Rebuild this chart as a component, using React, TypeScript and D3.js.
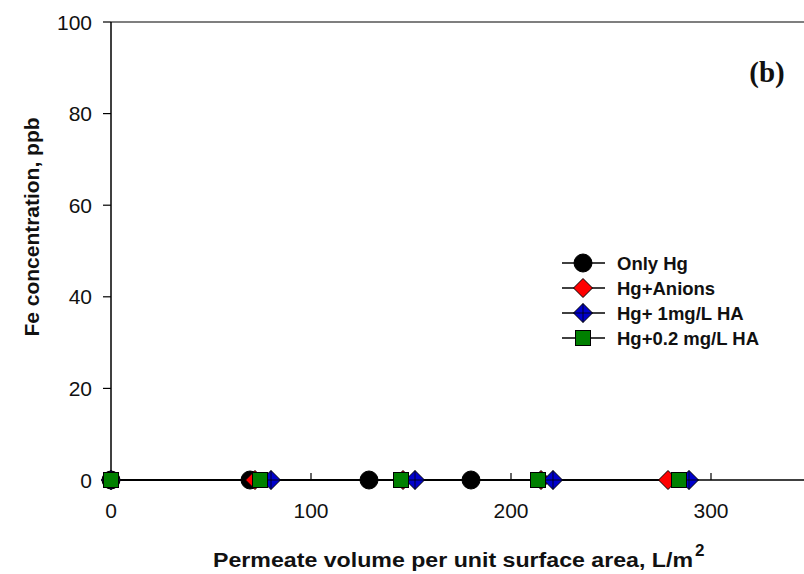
import React from "react";
import * as d3 from "d3";

const xTicks = [0, 100, 200, 300];
const yTicks = [0, 20, 40, 60, 80, 100];

const onlyHgX = [0, 69.5, 129, 180];
const onlyHgY = [0, 0, 0, 0];
const anionsX = [0, 72, 146, 215, 278.5];
const anionsY = [0, 0, 0, 0, 0];
const ha1X = [0, 80, 152, 221, 289];
const ha1Y = [0, 0, 0, 0, 0];
const ha02X = [0, 74.5, 145, 213.5, 284];
const ha02Y = [0, 0, 0, 0, 0];

const seriesNames = ["Only Hg", "Hg+Anions", "Hg+ 1mg/L HA", "Hg+0.2 mg/L HA"];
const seriesColors = ["#000000", "#ff0000", "#0000cc", "#008000"];
const seriesShapes = ["circle", "diamond", "diamond", "square"];

const W = 804, H = 574;
const x = d3.scaleLinear().domain([0, 346.5]).range([111, 804]);
const y = d3.scaleLinear().domain([0, 100]).range([480, 22]);

function Marker({ shape, cx, cy, fill, cross }: any) {
  if (shape === "circle") return <circle cx={cx} cy={cy} r={9} fill={fill} stroke="#000" strokeWidth={1} />;
  if (shape === "square") return <rect x={cx - 7.5} y={cy - 7.5} width={15} height={15} fill={fill} stroke="#000" strokeWidth={1} />;
  const s = 9.5;
  return (
    <g>
      <path d={`M${cx},${cy - s}L${cx + s},${cy}L${cx},${cy + s}L${cx - s},${cy}Z`} fill={fill} stroke="#000" strokeWidth={1} />
      {cross && <path d={`M${cx - s},${cy}L${cx + s},${cy}M${cx},${cy - s}L${cx},${cy + s}`} stroke="#000" strokeWidth={0.8} />}
    </g>
  );
}

export default function App() {
  const series = [
    { xs: onlyHgX, ys: onlyHgY },
    { xs: anionsX, ys: anionsY },
    { xs: ha1X, ys: ha1Y },
    { xs: ha02X, ys: ha02Y },
  ];
  const line = d3.line<[number, number]>().x((d) => x(d[0])).y((d) => y(d[1]));
  const font = "Liberation Sans, Arial, sans-serif";
  return (
    <svg width={W} height={H} style={{ position: "absolute", left: 0, top: 0, background: "#fff" }} fontFamily={font}>
      <rect width={W} height={H} fill="#fff" />
      <line x1={x(0)} x2={W} y1={y(100)} y2={y(100)} stroke="#000" strokeWidth={1.2} />
      <line x1={x(0)} x2={x(0)} y1={y(100)} y2={y(0)} stroke="#000" strokeWidth={1.5} />
      <line x1={x(0)} x2={W} y1={y(0)} y2={y(0)} stroke="#000" strokeWidth={1.5} />
      {yTicks.map((t) => (
        <g key={t}>
          <line x1={x(0) - 8} x2={x(0)} y1={y(t)} y2={y(t)} stroke="#000" strokeWidth={1.2} />
          <text x={92} y={y(t)} dy="0.36em" textAnchor="end" fontSize={21} fill="#111">{t}</text>
        </g>
      ))}
      {xTicks.map((t) => (
        <g key={t}>
          <line x1={x(t)} x2={x(t)} y1={y(0)} y2={y(0) - 7} stroke="#000" strokeWidth={1.2} />
          <text x={x(t)} y={510} dy="0.36em" textAnchor="middle" fontSize={21} fill="#111">{t}</text>
        </g>
      ))}
      {series.map((s, i) => (
        <path key={i} d={line(s.xs.map((v, j) => [v, s.ys[j]]) as any) || ""} fill="none" stroke="#000" strokeWidth={1.5} />
      ))}
      {series.map((s, i) => (
        <g key={"m" + i}>
          {s.xs.map((v, j) => (
            <Marker key={j} shape={seriesShapes[i]} cx={x(v)} cy={y(s.ys[j])} fill={seriesColors[i]} cross={i === 2} />
          ))}
        </g>
      ))}
      {seriesNames.map((n, i) => {
        const ly = 263 + i * 25;
        return (
          <g key={n}>
            <line x1={562} x2={605} y1={ly} y2={ly} stroke="#000" strokeWidth={1.5} />
            <Marker shape={seriesShapes[i]} cx={583} cy={ly} fill={seriesColors[i]} cross={i === 2} />
            <text x={617} y={ly} dy="0.36em" fontSize={18.5} fontWeight="bold" fill="#111">{n}</text>
          </g>
        );
      })}
      <text x={32} y={227} transform="rotate(-90,32,227)" dy="0.36em" textAnchor="middle" fontSize={20} fontWeight="bold" fill="#111" textLength={219} lengthAdjust="spacingAndGlyphs">Fe concentration, ppb</text>
      <text x={213} y={567} fontSize={20} fontWeight="bold" fill="#111" textLength={480} lengthAdjust="spacingAndGlyphs">Permeate volume per unit surface area, L/m</text>
      <text x={695} y={556} fontSize={17} fontWeight="bold" fill="#111">2</text>
      <text x={767} y={72} dy="0.35em" textAnchor="middle" fontSize={29} fontWeight="bold" fontFamily="Liberation Serif, Times New Roman, serif" fill="#111">(b)</text>
    </svg>
  );
}
